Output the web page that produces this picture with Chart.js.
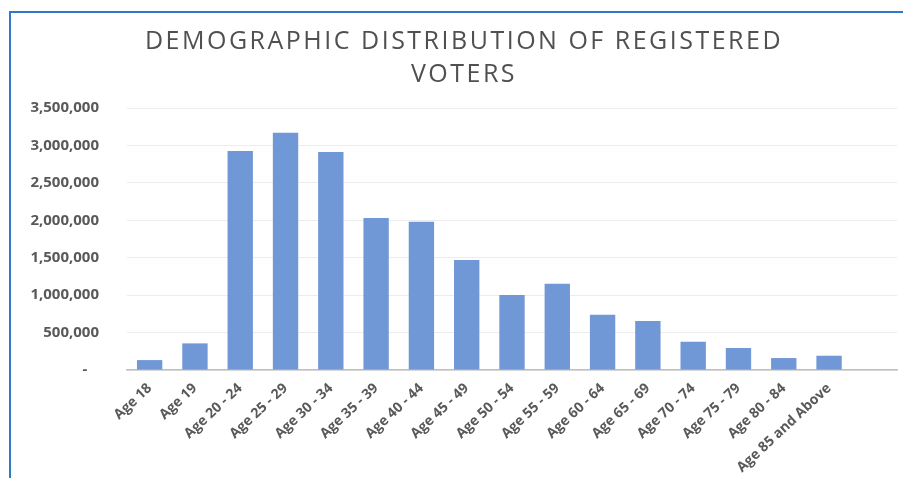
<!DOCTYPE html>
<html>
<head>
<meta charset="utf-8">
<script src="https://cdn.jsdelivr.net/npm/chart.js@4/dist/chart.umd.min.js"></script>
<style>
    body { margin: 0; background: #fff; }
    #frame {
        position: absolute;
        left: 9px;
        top: 11px;
        width: 892px;
        height: 465px;
        border-left: 2px solid #2f7bc8;
        border-top: 2px solid #2f7bc8;
    }
</style>
</head>
<body>
<div id="frame"><canvas id="voterChart"></canvas></div>
<script>
// Age groups (last entry is an empty slot, as in the original plot)
const ageGroups = ['Age 18', 'Age 19', 'Age 20 - 24', 'Age 25 - 29', 'Age 30 - 34', 'Age 35 - 39',
    'Age 40 - 44', 'Age 45 - 49', 'Age 50 - 54', 'Age 55 - 59', 'Age 60 - 64', 'Age 65 - 69',
    'Age 70 - 74', 'Age 75 - 79', 'Age 80 - 84', 'Age 85 and Above', ''];

// Registered voters per group
const voters = [133000, 356000, 2925000, 3170000, 2912000, 2030000,
    1982000, 1470000, 1001000, 1152000, 737000, 656000,
    378000, 294000, 160000, 191000, null];

const yMax = 3500000;
const yStep = 500000;

const titleLines = ['DEMOGRAPHIC DISTRIBUTION OF REGISTERED', 'VOTERS'];

function formatTick(value) {
    if (value === 0) return '-   ';
    return value.toLocaleString('en-US');
}

// Widen the title letters a bit, the original uses spaced caps
const titleSpacing = {
    id: 'titleSpacing',
    afterInit(chart) {
        const block = chart.titleBlock;
        if (!block) return;
        const origDraw = block.draw;
        block.draw = function() {
            const c = chart.ctx;
            c.save();
            c.letterSpacing = '2.5px';
            origDraw.apply(this, arguments);
            c.restore();
        };
    }
};

function createVoterChart() {
    const ctx = document.getElementById('voterChart');
    if (!ctx) return;

    new Chart(ctx, {
        type: 'bar',
        data: {
            labels: ageGroups,
            datasets: [{
                label: 'Registered voters',
                data: voters,
                backgroundColor: '#7198d6',
                borderWidth: 0,
                barPercentage: 0.56,
                categoryPercentage: 1
            }]
        },
        options: {
            responsive: true,
            maintainAspectRatio: false,
            animation: false,
            layout: {
                padding: { left: 20, right: 6, top: 0, bottom: 0 }
            },
            plugins: {
                legend: { display: false },
                tooltip: { enabled: false },
                title: {
                    display: true,
                    text: titleLines,
                    color: '#505050',
                    font: { family: 'Open Sans', size: 25, weight: 'normal', lineHeight: 1.3 },
                    padding: { top: 13, bottom: 17 }
                }
            },
            scales: {
                x: {
                    grid: { display: false },
                    border: { color: '#bfbfbf', width: 1.5 },
                    ticks: {
                        color: '#595959',
                        font: { family: 'Open Sans', size: 14, weight: 'bold' },
                        minRotation: 43,
                        maxRotation: 43,
                        autoSkip: false,
                        padding: 2
                    }
                },
                y: {
                    min: 0,
                    max: yMax,
                    grid: { color: '#ececec', drawTicks: false },
                    border: { display: false },
                    afterFit: function(scale) {
                        scale.width = 96;
                    },
                    ticks: {
                        stepSize: yStep,
                        color: '#595959',
                        font: { family: 'Open Sans', size: 15, weight: 'bold' },
                        padding: 28,
                        callback: formatTick
                    }
                }
            }
        },
        plugins: [titleSpacing]
    });
}

document.addEventListener('DOMContentLoaded', createVoterChart);
</script>
</body>
</html>
